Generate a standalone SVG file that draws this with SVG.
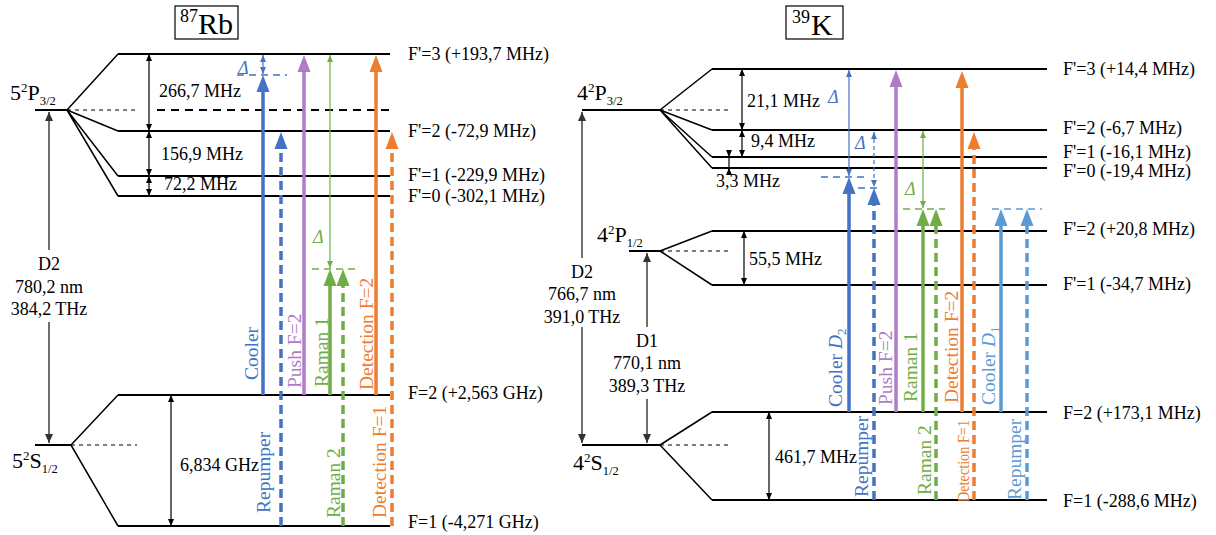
<svg xmlns="http://www.w3.org/2000/svg" width="1216" height="535" viewBox="0 0 1216 535">
<defs>
<style>
text{font-family:"Liberation Serif","Times New Roman",serif}
.lbl{font-size:18px}
.rot{font-size:19.5px}
.big{font-size:22px}
.d{font-style:italic;font-size:18px}
.lv{stroke:#000;stroke-width:2;fill:none}
.dg{stroke:#000;stroke-width:1.5;fill:none}
.dsh{stroke:#000;stroke-width:1.2;stroke-dasharray:4 4;fill:none}
.dsh2{stroke:#000;stroke-width:2;stroke-dasharray:8 6;fill:none}
.m{stroke:#000;stroke-width:1.2;fill:none;marker-start:url(#mk);marker-end:url(#mk)}
.mg{stroke:#333;stroke-width:1.4;fill:none}
.th{stroke-width:3.5;fill:none}
.td{stroke-width:3.5;fill:none;stroke-dasharray:9 5}
.b{stroke:#4472C4}.bf{fill:#4472C4}
.p{stroke:#B07CC6}.pf{fill:#B07CC6}
.g{stroke:#70AD47}.gf{fill:#70AD47}
.o{stroke:#ED7D31}.of{fill:#ED7D31}
.l{stroke:#5B9BD5}.lf{fill:#5B9BD5}
.hz{stroke-width:1.5;stroke-dasharray:7 5;fill:none}
</style>
<marker id="mk" markerUnits="userSpaceOnUse" markerWidth="7" markerHeight="6" refX="7" refY="3" orient="auto-start-reverse"><path d="M0,0 L7,3 L0,6 z" fill="#000"/></marker>
<marker id="mkg" markerUnits="userSpaceOnUse" markerWidth="9" markerHeight="8" refX="9" refY="4" orient="auto-start-reverse"><path d="M0,0 L9,4 L0,8 z" fill="#333"/></marker>
<marker id="mb" markerUnits="userSpaceOnUse" markerWidth="7" markerHeight="6" refX="7" refY="3" orient="auto-start-reverse"><path d="M0,0 L7,3 L0,6 z" fill="#4472C4"/></marker>
<marker id="mgr" markerUnits="userSpaceOnUse" markerWidth="7" markerHeight="6" refX="7" refY="3" orient="auto-start-reverse"><path d="M0,0 L7,3 L0,6 z" fill="#70AD47"/></marker>
</defs>
<rect width="1216" height="535" fill="#fff"/>

<!-- Titles -->
<g id="title-rb">
<rect x="175" y="6" width="63" height="33" fill="none" stroke="#000" stroke-width="1.2"/>
<text x="180" y="22" font-size="18">87</text>
<text x="198" y="33.5" font-size="30">Rb</text>
</g>
<g id="title-k">
<rect x="786" y="6" width="57" height="33" fill="none" stroke="#000" stroke-width="1.2"/>
<text x="792" y="23" font-size="18">39</text>
<text x="811" y="34.5" font-size="30">K</text>
</g>

<!-- Rb levels -->
<g id="rb-p32">
<path class="lv" d="M35,110 H67"/>
<path class="dg" d="M67,110 L118,54 M67,110 L118,131 M67,110 L118,176 M67,110 L118,196"/>
<path class="lv" d="M118,54 H390 M118,131 H390 M118,176 H390 M118,196 H390"/>
<path class="dsh" d="M67,110 H137"/>
<path class="dsh2" d="M157,110 H390"/>
<text class="big" x="10" y="100">5<tspan font-size="13" dy="-8">2</tspan><tspan dy="8">P</tspan><tspan font-size="12.5" dy="5">3/2</tspan></text>
</g>
<g id="rb-s12">
<path class="lv" d="M35,445 H71"/>
<path class="dg" d="M71,445 L118,395 M71,445 L118,526"/>
<path class="lv" d="M118,395 H390 M118,526 H390"/>
<path class="dsh" d="M71,445 H137"/>
<text class="big" x="12" y="468">5<tspan font-size="13" dy="-8">2</tspan><tspan dy="8">S</tspan><tspan font-size="12.5" dy="5">1/2</tspan></text>
</g>
<g id="rb-labels">
<text class="lbl" x="408" y="60">F'=3 (+193,7 MHz)</text>
<text class="lbl" x="408" y="137">F'=2 (-72,9 MHz)</text>
<text class="lbl" x="408" y="181">F'=1 (-229,9 MHz)</text>
<text class="lbl" x="408" y="202">F'=0 (-302,1 MHz)</text>
<text class="lbl" x="408" y="399">F=2 (+2,563 GHz)</text>
<text class="lbl" x="408" y="528">F=1 (-4,271 GHz)</text>
<text class="lbl" x="159" y="97">266,7 MHz</text>
<text class="lbl" x="161" y="160">156,9 MHz</text>
<text class="lbl" x="164" y="190">72,2 MHz</text>
<text class="lbl" x="180" y="471">6,834 GHz</text>
<text class="lbl" x="49" y="270" text-anchor="middle">D2</text>
<text class="lbl" x="49" y="293" text-anchor="middle">780,2 nm</text>
<text class="lbl" x="49" y="315" text-anchor="middle">384,2 THz</text>
</g>

<!-- K levels -->
<g id="k-p32">
<path class="lv" d="M582,110 H660"/>
<path class="dg" d="M660,110 L712,69 M660,110 L712,130 M660,110 L712,157 M660,110 L712,168"/>
<path class="lv" d="M712,69 H1047 M712,130 H1047 M712,157 H1047 M712,168 H1047"/>
<path class="dsh" d="M660,110 H730"/>
<text class="big" x="577" y="100">4<tspan font-size="13" dy="-8">2</tspan><tspan dy="8">P</tspan><tspan font-size="12.5" dy="5">3/2</tspan></text>
</g>
<g id="k-p12">
<path class="lv" d="M629,251 H660"/>
<path class="dg" d="M660,251 L712,231 M660,251 L712,285"/>
<path class="lv" d="M712,231 H1047 M712,285 H1047"/>
<path class="dsh" d="M660,251 H730"/>
<text class="big" x="597" y="242">4<tspan font-size="13" dy="-8">2</tspan><tspan dy="8">P</tspan><tspan font-size="12.5" dy="5">1/2</tspan></text>
</g>
<g id="k-s12">
<path class="lv" d="M582,445 H660"/>
<path class="dg" d="M660,445 L712,412 M660,445 L712,500"/>
<path class="lv" d="M712,412 H1047 M712,500 H1047"/>
<path class="dsh" d="M660,445 H730"/>
<text class="big" x="573" y="470">4<tspan font-size="13" dy="-8">2</tspan><tspan dy="8">S</tspan><tspan font-size="12.5" dy="5">1/2</tspan></text>
</g>
<g id="k-labels">
<text class="lbl" x="1063" y="74.5">F'=3 (+14,4 MHz)</text>
<text class="lbl" x="1063" y="134">F'=2 (-6,7 MHz)</text>
<text class="lbl" x="1063" y="157.5">F'=1 (-16,1 MHz)</text>
<text class="lbl" x="1063" y="176.5">F'=0 (-19,4 MHz)</text>
<text class="lbl" x="1063" y="235">F'=2 (+20,8 MHz)</text>
<text class="lbl" x="1063" y="290">F'=1 (-34,7 MHz)</text>
<text class="lbl" x="1063" y="419">F=2 (+173,1 MHz)</text>
<text class="lbl" x="1063" y="507">F=1 (-288,6 MHz)</text>
<text class="lbl" x="747" y="107">21,1 MHz</text>
<text class="lbl" x="751" y="147">9,4 MHz</text>
<text class="lbl" x="716" y="187">3,3 MHz</text>
<text class="lbl" x="749" y="265">55,5 MHz</text>
<text class="lbl" x="775" y="463">461,7 MHz</text>
<text class="lbl" x="582" y="278" text-anchor="middle">D2</text>
<text class="lbl" x="582" y="300" text-anchor="middle">766,7 nm</text>
<text class="lbl" x="582" y="323" text-anchor="middle">391,0 THz</text>
<text class="lbl" x="647" y="347" text-anchor="middle">D1</text>
<text class="lbl" x="647" y="369" text-anchor="middle">770,1 nm</text>
<text class="lbl" x="647" y="392" text-anchor="middle">389,3 THz</text>
</g>

<!-- Connectors -->
<g id="connectors">
<path class="m" d="M149,54 V131"/>
<path class="m" d="M149,131 V176"/>
<path class="m" d="M149,176 V196"/>
<path class="m" d="M171,395 V526"/>
<path class="m" d="M742,69 V130"/>
<path class="m" d="M742,130 V157"/>
<path class="m" d="M744,231 V285"/>
<path class="m" d="M769,412 V500"/>
<path stroke="#000" stroke-width="1.2" d="M729,150 V174"/>
<polygon points="729,157 726,150 732,150" fill="#000"/>
<polygon points="729,168 726,175 732,175" fill="#000"/>
<path class="mg" d="M49,250 V112" marker-end="url(#mkg)"/>
<path class="mg" d="M49,322 V443" marker-end="url(#mkg)"/>
<path class="mg" d="M582,258 V112" marker-end="url(#mkg)"/>
<path class="mg" d="M582,327 V443" marker-end="url(#mkg)"/>
<path class="mg" d="M647,327 V253" marker-end="url(#mkg)"/>
<path class="mg" d="M647,399 V443" marker-end="url(#mkg)"/>

<path class="th b" d="M263,395 V90"/><polygon class="bf" points="263,75 256.5,92 269.5,92"/>
<path class="td b" d="M281,526 V147"/><polygon class="bf" points="281,132 274.5,149 287.5,149"/>
<path class="th p" d="M304,395 V70"/><polygon class="pf" points="304,55 297.5,72 310.5,72"/>
<path class="th g" d="M330,395 V284"/><polygon class="gf" points="330,269 323.5,286 336.5,286"/>
<path class="td g" d="M343,526 V284"/><polygon class="gf" points="343,269 336.5,286 349.5,286"/>
<path class="th o" d="M376,395 V70"/><polygon class="of" points="376,55 369.5,72 382.5,72"/>
<path class="td o" d="M392,526 V147"/><polygon class="of" points="392,132 385.5,149 398.5,149"/>
<path class="b" stroke-width="1.2" fill="none" d="M263,55 V74" marker-start="url(#mb)" marker-end="url(#mb)"/>
<path class="b hz" d="M237,75 H287"/>
<path class="g" stroke-width="1.2" fill="none" d="M330,55 V268" marker-start="url(#mgr)" marker-end="url(#mgr)"/>
<path class="g hz" d="M312,269 H355"/>

<path class="th b" d="M849,412 V192"/><polygon class="bf" points="849,177 842.5,194 855.5,194"/>
<path class="td b" d="M874,500 V203"/><polygon class="bf" points="874,188 867.5,205 880.5,205"/>
<path class="th p" d="M896,412 V85"/><polygon class="pf" points="896,70 889.5,87 902.5,87"/>
<path class="th g" d="M923,412 V224"/><polygon class="gf" points="923,209 916.5,226 929.5,226"/>
<path class="td g" d="M936,500 V224"/><polygon class="gf" points="936,209 929.5,226 942.5,226"/>
<path class="th o" d="M962,412 V86"/><polygon class="of" points="962,71 955.5,88 968.5,88"/>
<path class="td o" d="M974,500 V147"/><polygon class="of" points="974,132 967.5,149 980.5,149"/>
<path class="th l" d="M1001,412 V224"/><polygon class="lf" points="1001,209 994.5,226 1007.5,226"/>
<path class="td l" d="M1027,500 V224"/><polygon class="lf" points="1027,209 1020.5,226 1033.5,226"/>
<path class="b" stroke-width="1.2" fill="none" d="M849,70 V176" marker-start="url(#mb)" marker-end="url(#mb)"/>
<path class="b" stroke-width="1.2" fill="none" stroke-dasharray="4 3" d="M874,132 V187" marker-start="url(#mb)" marker-end="url(#mb)"/>
<path class="g" stroke-width="1.2" fill="none" d="M923,131 V208" marker-start="url(#mgr)" marker-end="url(#mgr)"/>
<path class="b hz" d="M821,177 H868"/>
<path class="b hz" d="M858,188 H880"/>
<path class="g hz" d="M903,209 H945"/>
<path class="l hz" d="M992,209 H1042"/>
</g>

<g id="deltas">
<text class="d" x="238" y="74" fill="#4472C4">Δ</text>
<text class="d" x="313" y="243" fill="#70AD47">Δ</text>
<text class="d" x="828" y="103" fill="#4472C4">Δ</text>
<text class="d" x="855" y="149" fill="#4472C4">Δ</text>
<text class="d" x="905" y="195" fill="#70AD47">Δ</text>
</g>

<g id="rb-beams">
<text class="rot" transform="translate(258,380) rotate(-90)" fill="#4472C4">Cooler</text>
<text class="rot" transform="translate(301,388) rotate(-90)" fill="#B07CC6">Push F=2</text>
<text class="rot" transform="translate(328,387) rotate(-90)" fill="#70AD47">Raman 1</text>
<text class="rot" transform="translate(373,390) rotate(-90)" fill="#ED7D31">Detection F=2</text>
<text class="rot" transform="translate(270,513) rotate(-90)" fill="#4472C4">Repumper</text>
<text class="rot" transform="translate(340,518) rotate(-90)" fill="#70AD47">Raman 2</text>
<text class="rot" transform="translate(386,518) rotate(-90)" fill="#ED7D31">Detection F=1</text>
</g>
<g id="k-beams">
<text class="rot" transform="translate(842,407) rotate(-90)" fill="#4472C4">Cooler <tspan font-style="italic">D</tspan><tspan font-size="13" dy="4">2</tspan></text>
<text class="rot" transform="translate(892,405) rotate(-90)" fill="#B07CC6">Push F=2</text>
<text class="rot" transform="translate(917,402) rotate(-90)" fill="#70AD47">Raman 1</text>
<text class="rot" transform="translate(958,403) rotate(-90)" fill="#ED7D31">Detection F=2</text>
<text class="rot" transform="translate(995,405) rotate(-90)" fill="#5B9BD5">Cooler <tspan font-style="italic">D</tspan><tspan font-size="13" dy="4">1</tspan></text>
<text class="rot" transform="translate(868,497) rotate(-90)" fill="#4472C4">Repumper</text>
<text class="rot" transform="translate(931,495) rotate(-90)" fill="#70AD47">Raman 2</text>
<text transform="translate(969,502) rotate(-90)" fill="#ED7D31" font-size="17" textLength="82" lengthAdjust="spacingAndGlyphs">Detection F=1</text>
<text class="rot" transform="translate(1021,500) rotate(-90)" fill="#5B9BD5">Repumper</text>
</g>
</svg>
